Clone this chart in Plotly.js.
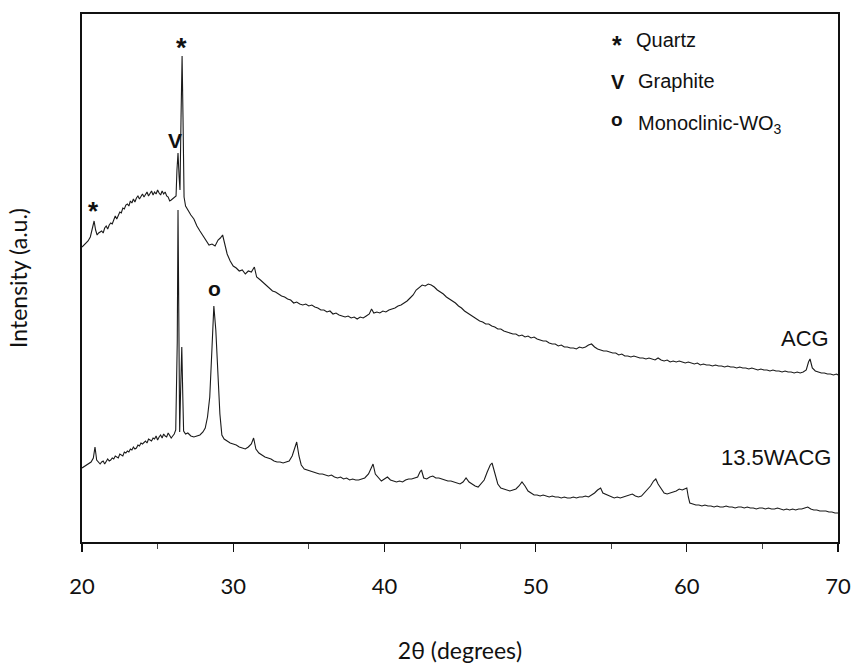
<!DOCTYPE html>
<html>
<head>
<meta charset="utf-8">
<script src="https://cdn.plot.ly/plotly-3.0.1.min.js"></script>
<style>html,body{margin:0;padding:0;background:#fff;}#chart{width:853px;height:664px;}</style>
</head>
<body>
<div id="chart"></div>
<script>
// 2-theta (degrees) and intensity (a.u.)
const acgX = [20.0,20.2,20.4,20.55,20.7,20.8,20.9,
21.0,21.1,21.2,21.3,21.4,21.5,21.6,21.7,21.8,21.9,
22.0,22.1,22.2,22.3,22.4,22.5,22.6,22.7,22.8,22.9,
23.0,23.1,23.2,23.3,23.4,23.5,23.6,23.7,23.8,23.9,
24.0,24.1,24.2,24.3,24.4,24.5,24.6,24.7,24.8,24.9,
25.0,25.1,25.2,25.3,25.4,25.5,25.6,25.7,25.8,25.9,
26.0,26.1,
26.22,26.28,26.35,26.42,26.48,26.55,26.62,26.68,26.75,26.85,27.0,27.2,27.4,27.6,27.8,28.0,28.2,28.4,28.6,28.8,29.0,29.15,29.3,29.45,29.6,29.8,30.0,30.2,30.4,30.6,30.8,31.0,31.2,31.4,31.55,31.8,32.0,32.2,32.4,32.6,32.8,33.0,33.2,33.4,33.6,33.8,34.0,34.2,34.4,34.6,34.8,35.0,35.2,35.4,35.6,35.8,36.0,36.2,36.4,36.6,36.8,37.0,37.2,37.4,37.6,37.8,38.0,38.2,38.4,38.6,38.8,39.0,39.15,39.3,39.5,39.7,39.9,40.1,40.3,40.5,40.7,40.9,41.1,41.3,41.5,41.7,41.9,42.1,42.3,42.5,42.7,42.9,43.1,43.3,43.5,43.7,43.9,44.1,44.3,44.5,44.7,44.9,45.1,45.3,45.5,45.7,45.9,46.1,46.3,46.5,46.7,46.9,47.1,47.3,47.5,47.7,47.9,48.1,48.3,48.5,48.7,48.9,49.1,49.3,49.5,49.7,49.9,50.1,50.3,50.5,50.7,50.9,51.1,51.3,51.5,51.7,51.9,52.1,52.3,52.5,52.7,52.9,53.1,53.3,53.5,53.7,53.9,54.1,54.3,54.5,54.7,54.9,55.1,55.3,55.5,55.7,55.9,56.1,56.3,56.5,56.7,56.9,57.1,57.3,57.5,57.7,57.9,58.1,58.3,58.5,58.7,58.9,59.1,59.3,59.5,59.7,59.9,60.1,60.3,60.5,60.7,60.9,61.1,61.3,61.5,61.7,61.9,62.1,62.3,62.5,62.7,62.9,63.1,63.3,63.5,63.7,63.9,64.1,64.3,64.5,64.7,64.9,65.1,65.3,65.5,65.7,65.9,66.1,66.3,66.5,66.7,66.9,67.1,67.3,67.5,67.7,67.9,68.05,68.15,68.3,68.5,68.7,68.9,69.1,69.3,69.5,69.7,69.9,70.0];
const acgY = [295,298,301,305,313,321,312,
307,309,310,311,309,314,316,313,317,319,
318,322,326,323,327,330,329,334,333,337,
338,336,341,339,343,340,344,346,343,345,
348,345,347,350,346,349,351,347,350,348,
352,349,347,351,348,350,346,345,341,342,
343,344,
346,372,389,366,352,425,486,425,345,336,332,327,323,316,311,306,301,297,298,296,302,304,307,296,288,281,276,274,271,272,268,271,270,275,265,262,259,257,254,251,250,248,246,245,243,242,239,240,238,237,238,236,237,235,234,232,232,230,231,228,229,227,226,225,226,224,225,223,225,224,226,228,233,229,230,229,231,230,232,233,234,236,237,239,241,244,247,252,255,257,256,258,257,255,252,250,248,245,243,241,239,236,234,231,229,227,225,223,221,220,218,218,216,215,213,213,211,210,209,208,208,206,207,205,206,204,205,203,202,201,201,199,198,198,196,197,195,195,194,194,193,195,194,195,197,198,195,193,192,191,191,190,189,189,187,188,186,186,185,186,185,184,184,183,184,183,182,184,182,181,182,180,181,180,181,180,179,180,179,178,179,177,178,177,177,176,177,176,176,175,176,175,175,174,175,174,174,173,174,173,172,173,172,172,171,172,171,171,170,171,170,170,169,170,169,170,172,180,183,174,171,170,169,169,168,168,167,168,167];

const waX = [20.0,20.2,20.4,20.6,20.75,20.86,20.97,
21.1,21.2,21.3,21.4,21.5,21.6,21.7,21.8,21.9,22.0,
22.1,22.2,22.3,22.4,22.5,22.6,22.7,22.8,22.9,23.0,
23.1,23.2,23.3,23.4,23.5,23.6,23.7,23.8,23.9,24.0,
24.1,24.2,24.3,24.4,24.5,24.6,24.7,24.8,24.9,25.0,
25.1,25.2,25.3,25.4,25.5,25.6,25.7,25.8,25.9,26.0,
26.1,26.2,
26.3,26.35,26.4,26.46,26.52,26.6,26.66,26.72,26.85,27.0,27.2,27.4,27.6,27.8,28.0,28.15,28.3,28.45,28.6,28.72,28.85,29.0,29.12,29.25,29.4,29.6,29.8,30.0,30.2,30.4,30.6,30.8,31.0,31.2,31.35,31.5,31.7,31.9,32.1,32.3,32.5,32.7,32.9,33.1,33.3,33.5,33.7,33.9,34.05,34.2,34.35,34.5,34.7,34.9,35.1,35.3,35.5,35.7,35.9,36.1,36.3,36.5,36.7,36.9,37.1,37.3,37.5,37.7,37.9,38.1,38.3,38.5,38.7,38.95,39.1,39.25,39.4,39.6,39.8,40.0,40.2,40.4,40.6,40.8,41.0,41.2,41.4,41.6,41.8,42.0,42.2,42.35,42.45,42.6,42.8,43.0,43.2,43.4,43.6,43.8,44.0,44.2,44.4,44.6,44.8,45.0,45.2,45.4,45.6,45.8,46.0,46.2,46.4,46.6,46.8,47.0,47.12,47.3,47.5,47.7,47.9,48.1,48.3,48.5,48.7,48.9,49.1,49.3,49.5,49.7,49.9,50.1,50.3,50.5,50.7,50.9,51.1,51.3,51.5,51.7,51.9,52.1,52.3,52.5,52.7,52.9,53.1,53.3,53.5,53.7,53.9,54.1,54.3,54.45,54.6,54.8,55.0,55.2,55.4,55.6,55.8,56.0,56.2,56.4,56.6,56.8,57.0,57.2,57.4,57.6,57.8,57.95,58.1,58.3,58.5,58.7,58.9,59.1,59.3,59.5,59.7,59.85,60.0,60.1,60.2,60.4,60.6,60.8,61.0,61.2,61.4,61.6,61.8,62.0,62.2,62.4,62.6,62.8,63.0,63.2,63.4,63.6,63.8,64.0,64.2,64.4,64.6,64.8,65.0,65.2,65.4,65.6,65.8,66.0,66.2,66.4,66.6,66.8,67.0,67.2,67.4,67.6,67.8,68.0,68.2,68.4,68.6,68.8,69.0,69.2,69.4,69.6,69.8,70.0];
const waY = [74,76,78,80,84,95,82,
79,78,80,81,78,80,83,81,82,84,
83,86,85,84,88,87,86,90,89,91,
90,93,92,95,93,94,97,96,99,98,
100,101,99,103,102,101,104,103,106,102,
105,107,104,108,106,105,109,107,104,106,
108,112,
200,332,200,110,150,195,150,111,108,109,106,105,106,107,110,114,125,145,195,236,212,165,128,107,103,101,99,98,97,95,94,93,95,98,104,93,89,87,85,84,83,81,80,80,79,80,81,86,93,100,86,77,73,72,71,70,69,68,68,67,66,67,65,64,65,63,64,62,63,62,62,63,64,68,74,78,68,64,61,63,65,62,61,60,61,60,62,63,63,64,65,70,72,64,63,65,66,64,64,63,62,61,61,60,59,58,60,64,60,58,56,55,58,62,70,77,79,70,58,54,53,52,51,52,53,56,60,56,51,49,47,47,46,47,46,45,46,45,45,44,45,44,44,45,44,45,45,46,45,47,49,52,54,49,48,46,45,44,45,44,45,46,47,48,46,45,46,49,52,56,61,63,58,53,49,48,49,50,51,53,52,53,54,45,39,38,37,37,36,37,36,36,35,36,35,35,36,35,35,34,35,35,34,35,34,34,33,34,34,33,34,33,33,34,33,32,33,32,33,32,33,33,34,35,33,32,32,31,31,31,30,30,29,29];

const seriesNames = ["ACG", "13.5WACG"];
const xTickVals = [20, 30, 40, 50, 60, 70];

const lineStyle = {color: "#1a1a1a", width: 1.1};
const traces = [
  {x: acgX, y: acgY, type: "scatter", mode: "lines", name: seriesNames[0], line: lineStyle, showlegend: false},
  {x: waX, y: waY, type: "scatter", mode: "lines", name: seriesNames[1], line: lineStyle, showlegend: false}
];

const arial = "Liberation Sans, Arial, sans-serif";
const gill = "Lato, 'Open Sans', sans-serif";
function ann(text, x, y, size, bold, xanchor) {
  return {text: bold ? "<b>" + text + "</b>" : text, x: x, y: y, xref: "x", yref: "y",
    showarrow: false, xanchor: xanchor || "center", yanchor: "middle",
    font: {family: arial, size: size, color: "#111"}};
}

const annotations = [
  ann("*", 26.61, 494, 27, true),
  ann("V", 26.15, 402, 21, true),
  ann("*", 20.79, 331, 26, true),
  ann("o", 28.73, 254, 21, true),
  ann("*", 55.38, 497, 25, true),
  ann("Quartz", 56.5, 502, 20, false, "left"),
  ann("V", 55.45, 460, 20, true),
  ann("Graphite", 56.65, 461, 20, false, "left"),
  ann("o", 55.38, 423, 19, true),
  ann("Monoclinic-WO<sub>3</sub>", 56.65, 418, 20, false, "left"),
  ann("ACG", 69.55, 204, 22, false, "right"),
  ann("13.5WACG", 69.65, 85, 22, false, "right")
];

const layout = {
  width: 853, height: 664,
  margin: {l: 82, r: 15, t: 14, b: 122},
  paper_bgcolor: "#fff", plot_bgcolor: "#fff",
  showlegend: false,
  xaxis: {
    range: [20, 70], tickvals: xTickVals, ticktext: xTickVals.map(String),
    showgrid: false, zeroline: false, showline: true, mirror: true,
    linecolor: "#111", linewidth: 1.6,
    ticks: "outside", ticklen: 8, tickwidth: 1.4, tickcolor: "#111",
    minor: {dtick: 5, tick0: 20, ticks: "outside", ticklen: 5, tickwidth: 1, tickcolor: "#444", showgrid: false},
    ticklabelstandoff: 16,
    tickfont: {family: gill, size: 22, color: "#111"},
    title: {text: "2θ (degrees)", font: {family: gill, size: 23, color: "#111"}, standoff: 46}
  },
  yaxis: {
    range: [0, 528], showgrid: false, zeroline: false, showline: true, mirror: true,
    linecolor: "#111", linewidth: 1.6, ticks: "", showticklabels: false,
    title: {text: "Intensity (a.u.)", font: {family: gill, size: 23, color: "#111"}, standoff: 46}
  },
  annotations: annotations
};

Plotly.newPlot("chart", traces, layout, {staticPlot: true, displayModeBar: false});
</script>
</body>
</html>
